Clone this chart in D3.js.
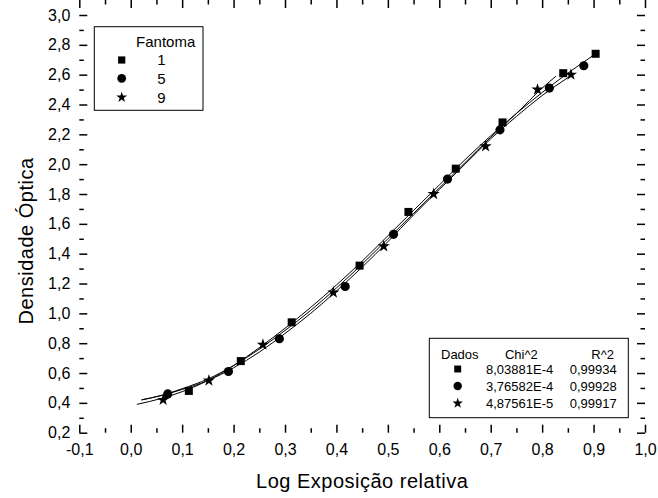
<!DOCTYPE html>
<html>
<head>
<meta charset="utf-8">
<script src="https://cdn.jsdelivr.net/npm/d3@7"></script>
<style>
  body { margin: 0; background: #fff; }
  svg { display: block; }
  text { font-family: "Liberation Sans", Arial, sans-serif; fill: #000; }
</style>
</head>
<body>
<svg id="chart"></svg>
<script>
// pontos medidos (Fantoma 1, 5, 9)
var sqX = [0.113, 0.214, 0.313, 0.445, 0.540, 0.632, 0.723, 0.841, 0.904];
var sqY = [0.48, 0.68, 0.94, 1.32, 1.68, 1.97, 2.28, 2.61, 2.74];
var circX = [0.072, 0.190, 0.289, 0.417, 0.511, 0.616, 0.718, 0.814, 0.881];
var circY = [0.46, 0.61, 0.83, 1.18, 1.53, 1.90, 2.23, 2.51, 2.66];
var starX = [0.063, 0.152, 0.257, 0.394, 0.492, 0.589, 0.690, 0.791, 0.856];
var starY = [0.42, 0.55, 0.79, 1.14, 1.45, 1.80, 2.12, 2.50, 2.60];

// curvas de ajuste
var fitSqX = [0.012, 0.06, 0.10, 0.15, 0.20, 0.25, 0.30, 0.35, 0.40, 0.45, 0.50, 0.55, 0.60, 0.65, 0.70, 0.75, 0.80, 0.85, 0.904];
var fitSqY = [0.39, 0.43, 0.475, 0.55, 0.65, 0.77, 0.90, 1.04, 1.19, 1.35, 1.52, 1.69, 1.86, 2.03, 2.19, 2.34, 2.48, 2.61, 2.74];
var fitCircX = [0.021, 0.06, 0.10, 0.15, 0.20, 0.25, 0.30, 0.35, 0.40, 0.45, 0.50, 0.55, 0.60, 0.65, 0.70, 0.75, 0.80, 0.85];
var fitCircY = [0.42, 0.45, 0.49, 0.55, 0.635, 0.74, 0.865, 1.00, 1.15, 1.31, 1.48, 1.66, 1.83, 2.00, 2.17, 2.32, 2.46, 2.58];
var fitStarX = [0.021, 0.06, 0.10, 0.15, 0.20, 0.25, 0.30, 0.35, 0.40, 0.45, 0.50, 0.55, 0.60, 0.65, 0.70, 0.75, 0.80, 0.827];
var fitStarY = [0.42, 0.45, 0.495, 0.56, 0.65, 0.76, 0.885, 1.02, 1.17, 1.33, 1.50, 1.67, 1.84, 2.01, 2.18, 2.34, 2.51, 2.59];

var xTicks = [-0.1, 0.0, 0.1, 0.2, 0.3, 0.4, 0.5, 0.6, 0.7, 0.8, 0.9, 1.0];
var yTicks = [0.2, 0.4, 0.6, 0.8, 1.0, 1.2, 1.4, 1.6, 1.8, 2.0, 2.2, 2.4, 2.6, 2.8, 3.0];
var xMinor = [-0.05, 0.05, 0.15, 0.25, 0.35, 0.45, 0.55, 0.65, 0.75, 0.85, 0.95];
var yMinor = [0.3, 0.5, 0.7, 0.9, 1.1, 1.3, 1.5, 1.7, 1.9, 2.1, 2.3, 2.5, 2.7, 2.9];

var legendNames = ["1", "5", "9"];
var chiValues = ["8,03881E-4", "3,76582E-4", "4,87561E-5"];
var r2Values = ["0,99934", "0,99928", "0,99917"];

var svgWidth = 658, svgHeight = 498;
var svg = d3.select("#chart").attr("width", svgWidth).attr("height", svgHeight);

var x = d3.scaleLinear().domain([-0.1, 1.0]).range([79.3, 645]);
var y = d3.scaleLinear().domain([0.2, 3.0]).range([432.7, 15]);

var pt = d3.formatLocale({decimal: ",", thousands: ".", grouping: [3], currency: ["", ""], minus: "-"});
var fmt = pt.format(".1f");

// eixos (ticks para dentro nos quatro lados)
function styleAxis(g) {
  g.select(".domain").remove();
  g.selectAll(".tick line").attr("stroke", "#000").attr("stroke-width", 1.5);
  g.selectAll(".tick text").style("font-size", "16px")
    .style("font-family", '"Liberation Sans", Arial, sans-serif');
}

var bottom = y.range()[0], top = y.range()[1];
var left = x.range()[0], right = x.range()[1];

svg.append("g").attr("transform", "translate(0," + bottom + ")")
  .call(d3.axisBottom(x).tickValues(xTicks).tickFormat(fmt).tickSize(-8).tickPadding(11))
  .call(styleAxis);
svg.append("g").attr("transform", "translate(0," + bottom + ")")
  .call(d3.axisBottom(x).tickValues(xMinor).tickFormat("").tickSize(-4.5))
  .call(styleAxis);
svg.append("g").attr("transform", "translate(0," + top + ")")
  .call(d3.axisTop(x).tickValues(xTicks).tickFormat("").tickSize(-8))
  .call(styleAxis);
svg.append("g").attr("transform", "translate(0," + top + ")")
  .call(d3.axisTop(x).tickValues(xMinor).tickFormat("").tickSize(-4.5))
  .call(styleAxis);

svg.append("g").attr("transform", "translate(" + left + ",0)")
  .call(d3.axisLeft(y).tickValues(yTicks).tickFormat(fmt).tickSize(-8).tickPadding(9))
  .call(styleAxis);
svg.append("g").attr("transform", "translate(" + left + ",0)")
  .call(d3.axisLeft(y).tickValues(yMinor).tickFormat("").tickSize(-4.5))
  .call(styleAxis);
svg.append("g").attr("transform", "translate(" + right + ",0)")
  .call(d3.axisRight(y).tickValues(yTicks).tickFormat("").tickSize(-8))
  .call(styleAxis);
svg.append("g").attr("transform", "translate(" + right + ",0)")
  .call(d3.axisRight(y).tickValues(yMinor).tickFormat("").tickSize(-4.5))
  .call(styleAxis);

// moldura
svg.append("rect")
  .attr("x", left).attr("y", top)
  .attr("width", right - left).attr("height", bottom - top)
  .attr("fill", "none").attr("stroke", "#000").attr("stroke-width", 2);

// titulos
svg.append("text")
  .attr("x", (left + right) / 2).attr("y", 487.5)
  .attr("text-anchor", "middle")
  .style("font-size", "20px").style("letter-spacing", "0.5px")
  .text("Log Exposição relativa");

svg.append("text")
  .attr("transform", "translate(33,241) rotate(-90)")
  .attr("text-anchor", "middle")
  .style("font-size", "20px").style("letter-spacing", "0.5px")
  .text("Densidade Óptica");

// curvas
var line = d3.line()
  .x(function(d) { return x(d[0]); })
  .y(function(d) { return y(d[1]); })
  .curve(d3.curveMonotoneX);

var fits = [[fitSqX, fitSqY], [fitCircX, fitCircY], [fitStarX, fitStarY]];
fits.forEach(function(f) {
  svg.append("path")
    .datum(d3.zip(f[0], f[1]))
    .attr("fill", "none")
    .attr("stroke", "#000")
    .attr("stroke-width", 1)
    .attr("d", line);
});

// simbolos
var series = [
  {xs: sqX, ys: sqY, type: d3.symbolSquare, size: 64},
  {xs: circX, ys: circY, type: d3.symbolCircle, size: 66},
  {xs: starX, ys: starY, type: d3.symbolStar, size: 46}
];
series.forEach(function(s) {
  svg.append("g").selectAll("path")
    .data(d3.zip(s.xs, s.ys))
    .enter().append("path")
    .attr("transform", function(d) { return "translate(" + x(d[0]) + "," + y(d[1]) + ")"; })
    .attr("d", d3.symbol().type(s.type).size(s.size))
    .attr("fill", "#000");
});

// legenda Fantoma
var leg = svg.append("g");
leg.append("rect").attr("x", 94.3).attr("y", 26.7).attr("width", 108.7).attr("height", 83.6)
  .attr("fill", "#fff").attr("stroke", "#000").attr("stroke-width", 1);
leg.append("text").attr("x", 165.7).attr("y", 46.5).attr("text-anchor", "middle")
  .style("font-size", "15px").text("Fantoma");
var legRows = [60, 78.3, 97.3];
var legSymbols = [
  {type: d3.symbolSquare, size: 52},
  {type: d3.symbolCircle, size: 60},
  {type: d3.symbolStar, size: 36}
];
legRows.forEach(function(ry, i) {
  leg.append("path")
    .attr("transform", "translate(121.7," + ry + ")")
    .attr("d", d3.symbol().type(legSymbols[i].type).size(legSymbols[i].size))
    .attr("fill", "#000");
  leg.append("text").attr("x", 161.3).attr("y", ry + 5.3).attr("text-anchor", "middle")
    .style("font-size", "15px").text(legendNames[i]);
});

// legenda do ajuste
var leg2 = svg.append("g");
leg2.append("rect").attr("x", 429.3).attr("y", 338.3).attr("width", 199).attr("height", 79.4)
  .attr("fill", "#fff").attr("stroke", "#000").attr("stroke-width", 1);
leg2.append("text").attr("x", 459.8).attr("y", 358.5).attr("text-anchor", "middle")
  .style("font-size", "13px").text("Dados");
leg2.append("text").attr("x", 521.3).attr("y", 358.5).attr("text-anchor", "middle")
  .style("font-size", "13px").text("Chi^2");
leg2.append("text").attr("x", 614).attr("y", 358.5).attr("text-anchor", "end")
  .style("font-size", "13px").text("R^2");
var leg2Rows = [369, 386, 403.3];
var leg2Symbols = [
  {type: d3.symbolSquare, size: 48},
  {type: d3.symbolCircle, size: 56},
  {type: d3.symbolStar, size: 34}
];
leg2Rows.forEach(function(ry, i) {
  leg2.append("path")
    .attr("transform", "translate(457.7," + ry + ")")
    .attr("d", d3.symbol().type(leg2Symbols[i].type).size(leg2Symbols[i].size))
    .attr("fill", "#000");
  leg2.append("text").attr("x", 486).attr("y", ry + 4.6)
    .style("font-size", "13px").text(chiValues[i]);
  leg2.append("text").attr("x", 616.7).attr("y", ry + 4.6).attr("text-anchor", "end")
    .style("font-size", "13px").text(r2Values[i]);
});
</script>
</body>
</html>
